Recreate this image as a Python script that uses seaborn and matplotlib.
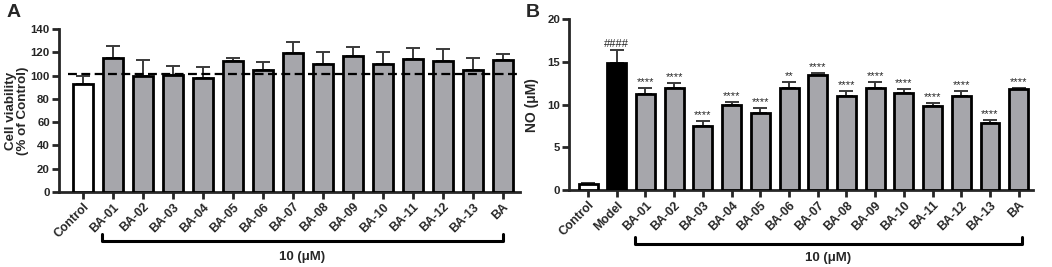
import numpy as np
import pandas as pd
import seaborn as sns
import matplotlib.pyplot as plt
import matplotlib.transforms as mtransforms

sns.set_style("ticks")
plt.rcParams["font.family"] = ["Liberation Sans", "DejaVu Sans"]
plt.rcParams["font.weight"] = "bold"

# panel A: cell viability
groups_a = ["Control", "BA-01", "BA-02", "BA-03", "BA-04", "BA-05", "BA-06", "BA-07",
            "BA-08", "BA-09", "BA-10", "BA-11", "BA-12", "BA-13", "BA"]
viability = [92.5, 114.8, 99.4, 100.8, 98.2, 112.8, 105.1, 119.4,
             110.0, 117.1, 110.2, 114.5, 112.5, 105.1, 113.1]
viability_sd = [6.9, 10.9, 14.3, 7.7, 9.2, 2.6, 6.9, 9.5,
                10.0, 7.2, 9.8, 9.2, 10.1, 10.3, 5.2]

# panel B: NO production
groups_b = ["Control", "Model", "BA-01", "BA-02", "BA-03", "BA-04", "BA-05", "BA-06",
            "BA-07", "BA-08", "BA-09", "BA-10", "BA-11", "BA-12", "BA-13", "BA"]
no_level = [0.74, 14.85, 11.2, 11.9, 7.5, 10.0, 9.06, 11.9,
            13.44, 10.98, 12.0, 11.4, 9.85, 10.98, 7.9, 11.8]
no_sd = [0.08, 1.55, 0.7, 0.6, 0.6, 0.3, 0.5, 0.76,
         0.23, 0.6, 0.66, 0.44, 0.31, 0.6, 0.27, 0.2]
no_marks = ["", "####", "****", "****", "****", "****", "****", "**",
            "****", "****", "****", "****", "****", "****", "****", "****"]

GREY = "#a5a5ac"


def draw_panel(ax, groups, vals, sd, colors, ylim, yticks, xlim):
    df = pd.DataFrame({"group": groups, "value": vals})
    sns.barplot(data=df, x="group", y="value", hue="group", palette=colors,
                order=groups, width=0.66, edgecolor="black", linewidth=2,
                legend=False, ax=ax, zorder=3)
    x = np.arange(len(groups))
    ax.errorbar(x, vals, yerr=[np.zeros(len(sd)), sd], fmt="none",
                ecolor="#3a3a3a", elinewidth=1.4, capsize=5, capthick=1.4, zorder=2)
    ax.set_ylim(*ylim)
    ax.set_yticks(yticks)
    ax.set_xlim(*xlim)
    ax.set_xlabel("")
    for s in ["top", "right"]:
        ax.spines[s].set_visible(False)
    for s in ["left", "bottom"]:
        ax.spines[s].set_linewidth(2)
    ax.tick_params(axis="both", width=2, length=5, pad=1.5)
    ax.tick_params(axis="x", labelsize=8.8)
    ax.tick_params(axis="y", labelsize=8.2)
    plt.setp(ax.get_xticklabels(), rotation=45, ha="right", rotation_mode="anchor",
             fontweight="bold")
    plt.setp(ax.get_yticklabels(), fontweight="bold")


def bracket(ax, x0, x1, y, h, label, ylab):
    tr = mtransforms.blended_transform_factory(ax.transData, ax.transAxes)
    ax.plot([x0, x0, x1, x1], [y + h, y, y, y + h], color="black", lw=2.2,
            transform=tr, clip_on=False)
    ax.text((x0 + x1) / 2, ylab, label, transform=tr, ha="center", va="center",
            fontsize=9.5, fontweight="bold")


fig = plt.figure(figsize=(10.52, 2.67), dpi=100)

ax1 = fig.add_axes([0.0561, 0.281, 0.438, 0.610])
colors_a = ["white"] + [GREY] * (len(groups_a) - 1)
draw_panel(ax1, groups_a, viability, viability_sd, colors_a, (0, 140),
           np.arange(0, 141, 20), (-0.8, 14.57))
ax1.axhline(101, xmin=0.02, xmax=1.0, color="black", lw=1.6, ls=(0, (4, 2)), zorder=4)
ax1.set_ylabel("Cell viability\n(% of Control)", fontsize=9.6, fontweight="bold",
               linespacing=1.0)
ax1.yaxis.set_label_coords(-0.066, 0.5)
bracket(ax1, 0.63, 14.0, -0.30, 0.04, "10 (\u03bcM)", -0.40)
fig.text(0.006, 0.955, "A", fontsize=14, fontweight="bold", va="center")

ax2 = fig.add_axes([0.541, 0.288, 0.441, 0.640])
colors_b = ["white", "black"] + [GREY] * (len(groups_b) - 2)
draw_panel(ax2, groups_b, no_level, no_sd, colors_b, (0, 20),
           np.arange(0, 21, 5), (-0.66, 15.5))
ax2.set_ylabel("NO (\u03bcM)", fontsize=10, fontweight="bold", labelpad=6)
for i, m in enumerate(no_marks):
    if m:
        ax2.text(i, no_level[i] + no_sd[i] + 0.1, m, ha="center", va="bottom",
                 fontsize=8, fontweight="normal")
bracket(ax2, 1.64, 15.1, -0.316, 0.04, "10 (\u03bcM)", -0.40)
fig.text(0.500, 0.955, "B", fontsize=14, fontweight="bold", va="center")

fig.savefig("out.png", dpi=100)
